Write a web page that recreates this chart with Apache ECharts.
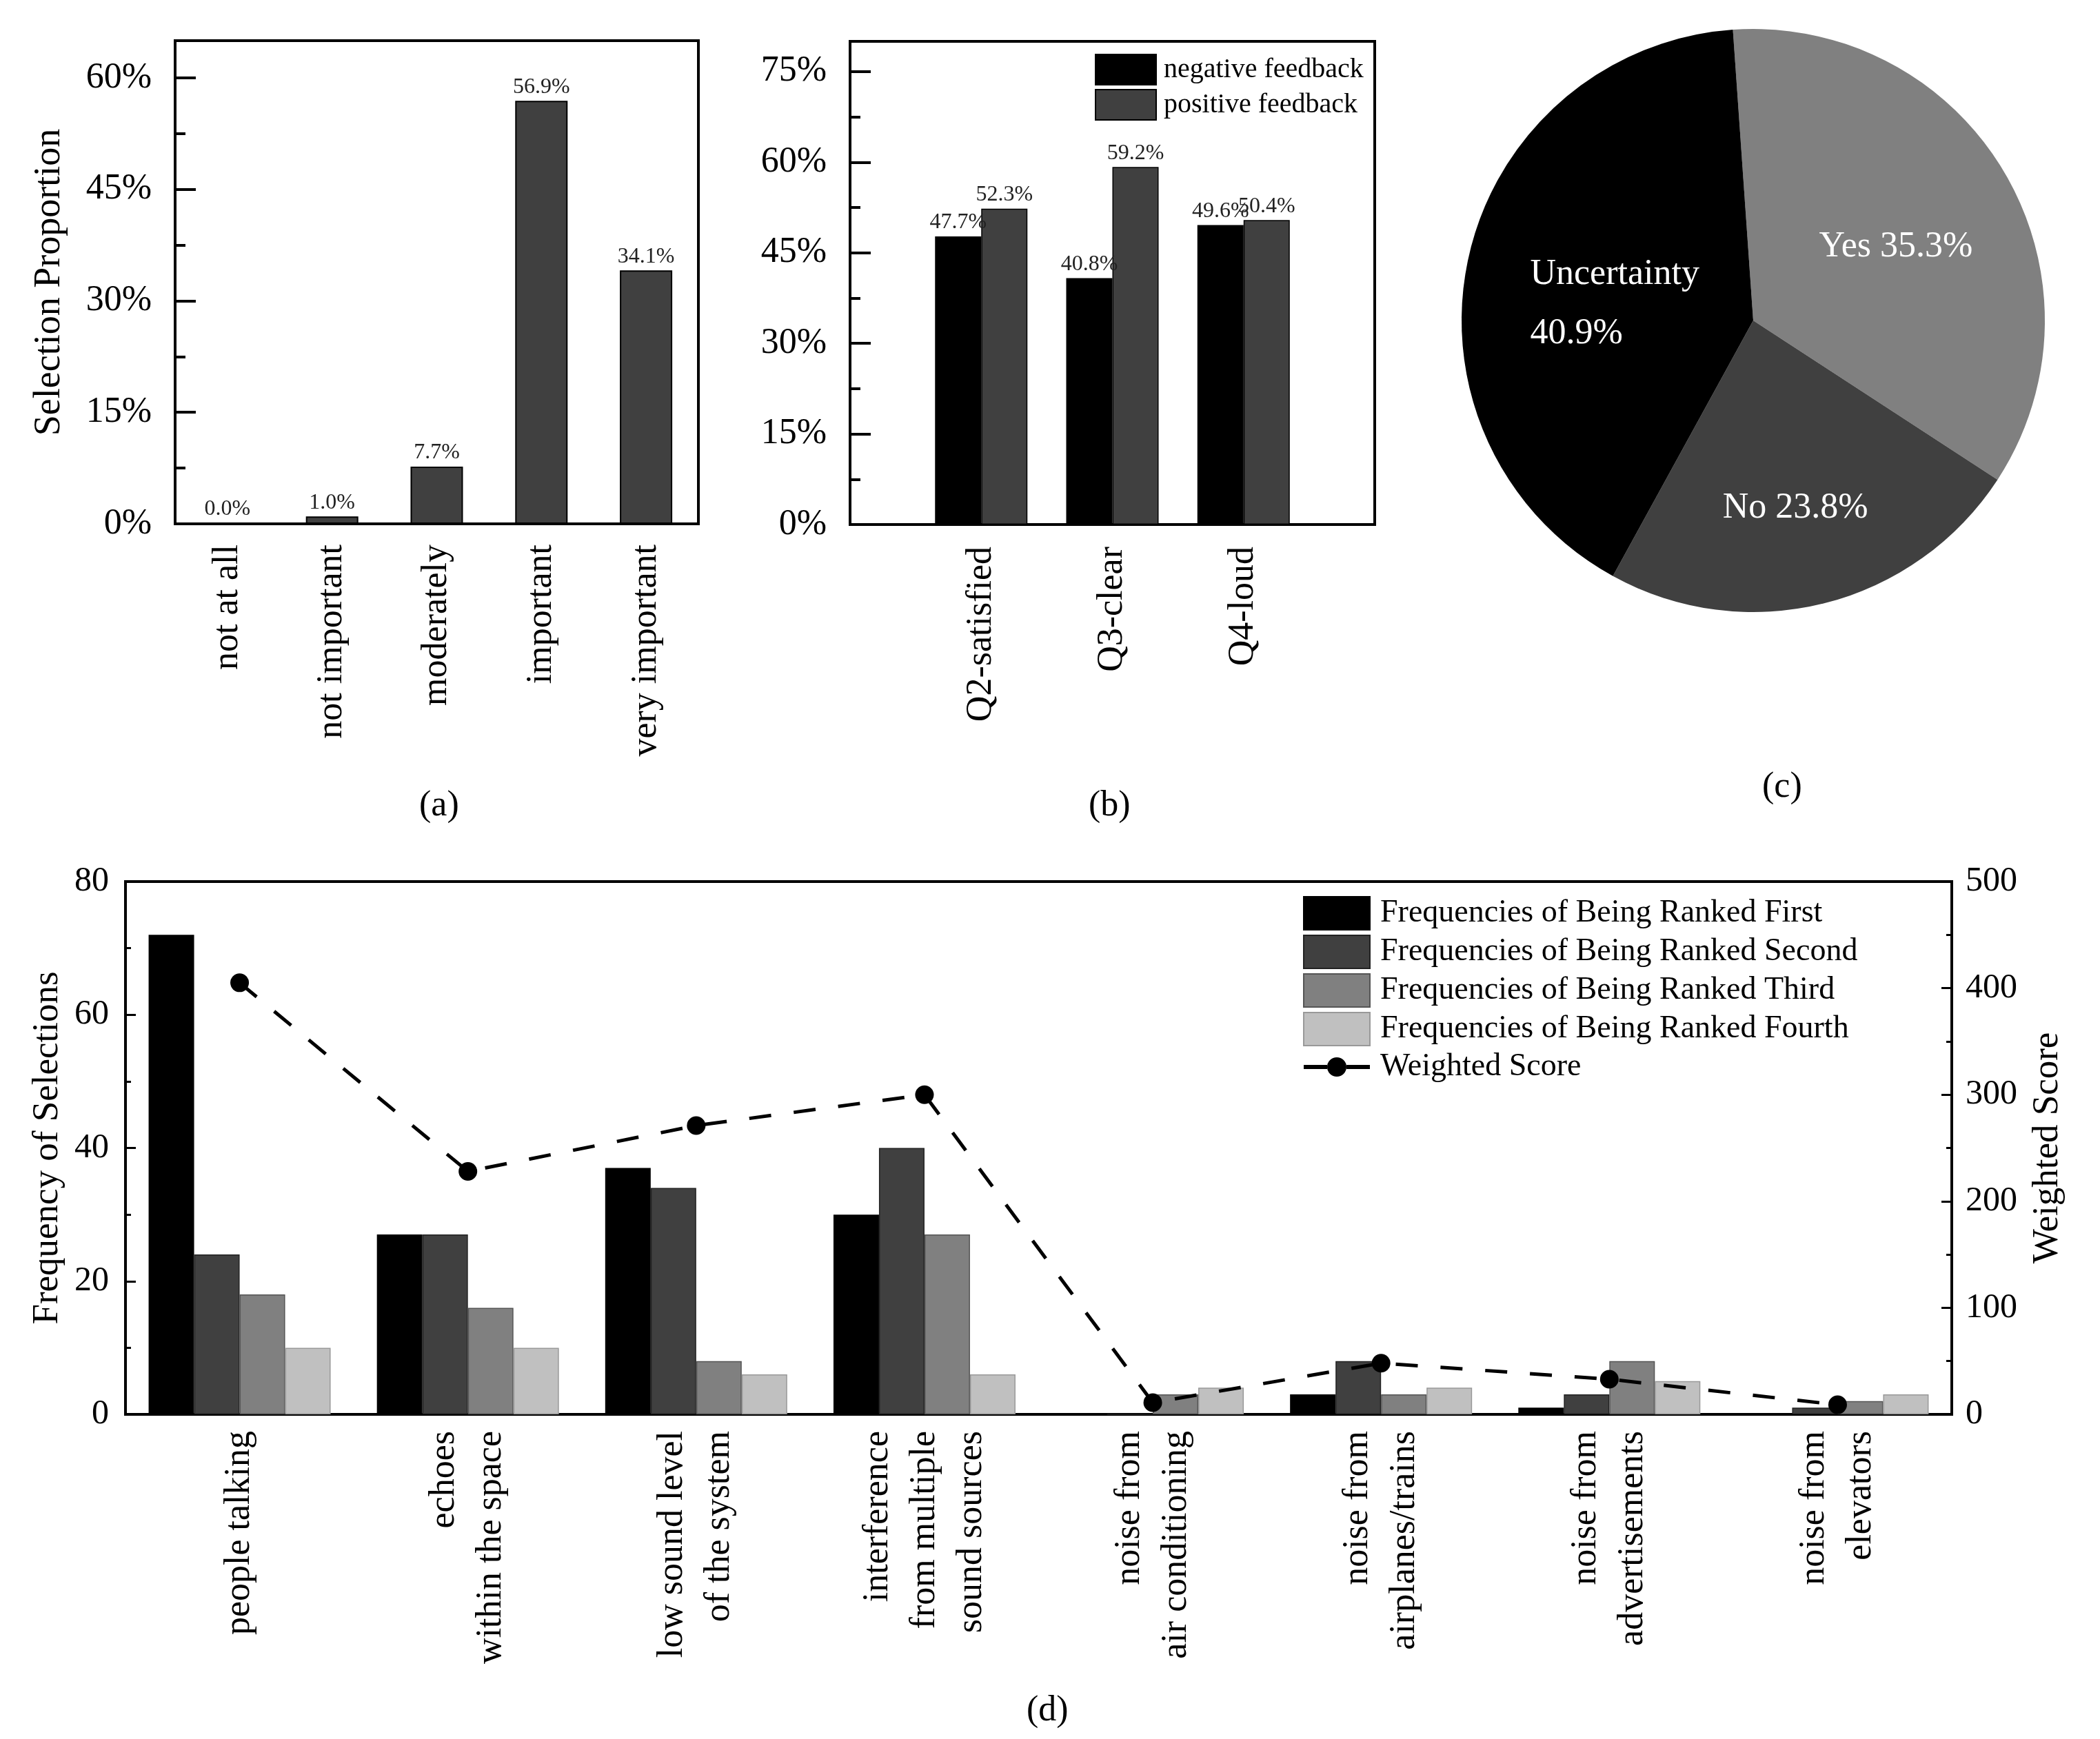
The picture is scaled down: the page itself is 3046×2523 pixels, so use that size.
<!DOCTYPE html>
<html>
<head>
<meta charset="utf-8">
<script src="https://cdn.jsdelivr.net/npm/echarts@6/dist/echarts.min.js"></script>
<style>html,body{margin:0;padding:0;background:#fff}#c{width:3046px;height:2523px}</style>
</head>
<body>
<div id="c"></div>
<script>
// ---- data ----
var aCategories = ['not at all', 'not important', 'moderately', 'important', 'very important'];
var aValues = [0.0, 1.0, 7.7, 56.9, 34.1];
var aTicks = [0, 15, 30, 45, 60];
var aMinorTicks = [7.5, 22.5, 37.5, 52.5];

var bCategories = ['Q2-satisfied', 'Q3-clear', 'Q4-loud'];
var bNegative = [47.7, 40.8, 49.6];
var bPositive = [52.3, 59.2, 50.4];
var bTicks = [0, 15, 30, 45, 60, 75];
var bMinorTicks = [7.5, 22.5, 37.5, 52.5, 67.5];

var cNames = ['Yes', 'No', 'Uncertainty'];
var cValues = [35.3, 23.8, 40.9];

var dCategories = ['people talking', 'echoes\nwithin the space', 'low sound level\nof the system',
  'interference\nfrom multiple\nsound sources', 'noise from\nair conditioning', 'noise from\nairplanes/trains',
  'noise from\nadvertisements', 'noise from\nelevators'];
var dFirst = [72, 27, 37, 30, 0, 3, 1, 0];
var dSecond = [24, 27, 34, 40, 0, 8, 3, 1];
var dThird = [18, 16, 8, 27, 3, 3, 8, 2];
var dFourth = [10, 10, 6, 6, 4, 4, 5, 3];
var dWeighted = [405, 228, 271, 300, 11, 48, 33, 9];
var dSeriesNames = ['Frequencies of Being Ranked First', 'Frequencies of Being Ranked Second',
  'Frequencies of Being Ranked Third', 'Frequencies of Being Ranked Fourth', 'Weighted Score'];

// ---- styling ----
var FONT = "'Liberation Serif','Times New Roman',serif";
function txt(size, extra) { return Object.assign({ fontFamily: FONT, fontSize: size, color: '#000' }, extra || {}); }
var frameLine = { show: true, onZero: false, lineStyle: { color: '#000', width: 4 } };
var C_BLACK = '#000000', C_DARK = '#404040', C_MID = '#808080', C_LIGHT = '#c0c0c0';
// legend glyph for the weighted-score line: dash, dot, dash
var LINE_DOT_ICON = 'path://M0,11h34v6h-34z M62,11h34v6h-34z M62,14a14,14 0 1,1 -28,0a14,14 0 1,1 28,0z';

function mainPctAxis(gridIndex, max, ticks, name) {
  var ax = {
    gridIndex: gridIndex, type: 'value', min: 0, max: max, position: 'left',
    axisLine: frameLine,
    axisTick: { show: true, inside: true, length: 30, lineStyle: { color: '#000', width: 4 }, customValues: ticks },
    axisLabel: Object.assign({ show: true, customValues: ticks, formatter: function (v) { return v + '%'; }, margin: 34 }, txt(52)),
    splitLine: { show: false }
  };
  if (name) {
    Object.assign(ax, { name: name, nameLocation: 'middle', nameGap: 155, nameTextStyle: txt(54) });
  }
  return ax;
}
function minorPctAxis(gridIndex, max, ticks) {
  return {
    gridIndex: gridIndex, type: 'value', min: 0, max: max, position: 'left',
    axisLine: { show: false },
    axisTick: { show: true, inside: true, length: 15, lineStyle: { color: '#000', width: 4 }, customValues: ticks },
    axisLabel: { show: false }, splitLine: { show: false }
  };
}

var pieOffsets = [
  { dx: 22, dy: 2 },
  { dx: 9, dy: 64 },
  { dx: -114, dy: 22, align: 'left' }
];

var barLabel = Object.assign({ show: true, position: 'top', distance: 4,
  formatter: function (p) { return Number(p.value).toFixed(1) + '%'; } }, txt(32, { color: '#222' }));

var option = {
  backgroundColor: '#fff',
  animation: false,
  title: [
    { text: '(a)', left: 603, top: 1138, textStyle: txt(52, { fontWeight: 'normal' }) },
    { text: '(b)', left: 1574, top: 1138, textStyle: txt(52, { fontWeight: 'normal' }) },
    { text: '(c)', left: 2551, top: 1111, textStyle: txt(52, { fontWeight: 'normal' }) },
    { text: '(d)', left: 1484, top: 2451, textStyle: txt(52, { fontWeight: 'normal' }) }
  ],
  grid: [
    { left: 254, top: 59, width: 759, height: 701, show: true, borderColor: '#000', borderWidth: 4 },
    { left: 1233, top: 60, width: 761, height: 701, show: true, borderColor: '#000', borderWidth: 4 },
    { left: 182, top: 1279, width: 2649, height: 773, show: true, borderColor: '#000', borderWidth: 4 }
  ],
  legend: [
    {
      data: ['negative feedback', 'positive feedback'], orient: 'vertical', left: 1588, top: 78,
      itemWidth: 88, itemHeight: 44, itemGap: 5, padding: 0, selectedMode: false, icon: 'rect',
      textStyle: txt(40, { padding: [0, 0, 0, 6], lineHeight: 44 })
    },
    {
      data: [
        { name: dSeriesNames[0], icon: 'rect' }, { name: dSeriesNames[1], icon: 'rect' },
        { name: dSeriesNames[2], icon: 'rect' }, { name: dSeriesNames[3], icon: 'rect' },
        { name: dSeriesNames[4], icon: LINE_DOT_ICON }
      ],
      orient: 'vertical', left: 1890, top: 1300, itemWidth: 96, itemHeight: 48, itemGap: 6, padding: 0,
      selectedMode: false, textStyle: txt(46, { padding: [0, 0, 0, 10], lineHeight: 48 })
    }
  ],
  xAxis: [
    {
      gridIndex: 0, type: 'category', data: aCategories, axisLine: frameLine, axisTick: { show: false },
      axisLabel: Object.assign({ interval: 0, rotate: 90, margin: 30 }, txt(52))
    },
    {
      gridIndex: 1, type: 'category', data: [''].concat(bCategories, ['']), boundaryGap: false, axisLine: frameLine,
      axisTick: { show: false }, axisLabel: Object.assign({ interval: 0, rotate: 90, margin: 32 }, txt(52))
    },
    {
      gridIndex: 2, type: 'category', data: dCategories, axisLine: frameLine, axisTick: { show: false },
      axisLabel: Object.assign({ interval: 0, rotate: 90, margin: 24, lineHeight: 68 }, txt(52))
    }
  ],
  yAxis: [
    mainPctAxis(0, 65, aTicks, 'Selection Proportion'),
    minorPctAxis(0, 65, aMinorTicks),
    mainPctAxis(1, 80, bTicks, null),
    minorPctAxis(1, 80, bMinorTicks),
    {
      gridIndex: 2, type: 'value', min: 0, max: 80, interval: 20, position: 'left',
      axisLine: frameLine,
      axisTick: { show: true, inside: true, length: 15, lineStyle: { color: '#000', width: 3 } },
      minorTick: { show: true, splitNumber: 2, length: 8, lineStyle: { color: '#000', width: 3 } },
      axisLabel: Object.assign({ margin: 24 }, txt(50)), splitLine: { show: false },
      name: 'Frequency of Selections', nameLocation: 'middle', nameGap: 86, nameTextStyle: txt(53)
    },
    {
      gridIndex: 2, type: 'value', min: 0, max: 500, interval: 100, position: 'right',
      axisLine: frameLine,
      axisTick: { show: true, inside: true, length: 15, lineStyle: { color: '#000', width: 3 } },
      minorTick: { show: true, splitNumber: 2, length: 8, lineStyle: { color: '#000', width: 3 } },
      axisLabel: Object.assign({ margin: 20 }, txt(50)), splitLine: { show: false },
      name: 'Weighted Score', nameLocation: 'middle', nameGap: 113, nameTextStyle: txt(53)
    }
  ],
  series: [
    {
      type: 'bar', xAxisIndex: 0, yAxisIndex: 0, data: aValues, barWidth: 76,
      itemStyle: { color: C_DARK, borderColor: '#000', borderWidth: 2 }, label: barLabel, silent: true
    },
    {
      type: 'bar', name: 'negative feedback', xAxisIndex: 1, yAxisIndex: 2, data: ['-'].concat(bNegative, ['-']),
      barWidth: 67, barGap: '0%', itemStyle: { color: C_BLACK, borderColor: '#000', borderWidth: 1.5 },
      label: barLabel, silent: true
    },
    {
      type: 'bar', name: 'positive feedback', xAxisIndex: 1, yAxisIndex: 2, data: ['-'].concat(bPositive, ['-']),
      barWidth: 67, barGap: '0%', itemStyle: { color: C_DARK, borderColor: '#000', borderWidth: 1.5 },
      label: barLabel, silent: true
    },
    {
      type: 'pie', center: [2543, 465], radius: 423, startAngle: 94, clockwise: true, silent: true,
      data: cNames.map(function (n, i) { return { name: n, value: cValues[i], itemStyle: { color: [C_MID, C_DARK, C_BLACK][i] } }; }),
      label: Object.assign({
        show: true, position: 'inside', lineHeight: 86,
        formatter: function (p) { return p.name === 'Uncertainty' ? p.name + '\n' + p.value + '%' : p.name + ' ' + p.value + '%'; }
      }, txt(52, { color: '#fff' })),
      labelLine: { show: false },
      labelLayout: function (p) { return pieOffsets[p.dataIndex]; },
      emphasis: { disabled: true }
    },
    {
      type: 'bar', name: dSeriesNames[0], xAxisIndex: 2, yAxisIndex: 4, data: dFirst, barWidth: 66, barGap: '0%',
      itemStyle: { color: C_BLACK, borderColor: '#000', borderWidth: 1.5 }, silent: true
    },
    {
      type: 'bar', name: dSeriesNames[1], xAxisIndex: 2, yAxisIndex: 4, data: dSecond, barWidth: 66, barGap: '0%',
      itemStyle: { color: C_DARK, borderColor: '#222', borderWidth: 1.5 }, silent: true
    },
    {
      type: 'bar', name: dSeriesNames[2], xAxisIndex: 2, yAxisIndex: 4, data: dThird, barWidth: 66, barGap: '0%',
      itemStyle: { color: C_MID, borderColor: '#555', borderWidth: 1.5 }, silent: true
    },
    {
      type: 'bar', name: dSeriesNames[3], xAxisIndex: 2, yAxisIndex: 4, data: dFourth, barWidth: 66, barGap: '0%',
      itemStyle: { color: C_LIGHT, borderColor: '#999', borderWidth: 1.5 }, silent: true
    },
    {
      type: 'line', name: dSeriesNames[4], xAxisIndex: 2, yAxisIndex: 5, data: dWeighted, z: 5,
      symbol: 'circle', symbolSize: 27, showSymbol: true,
      lineStyle: { color: '#000', width: 5, type: [32, 33] },
      itemStyle: { color: '#000', borderWidth: 0 }, silent: true
    }
  ]
};
var chart = echarts.init(document.getElementById('c'), null, { renderer: 'canvas' });
window.chart = chart;
try {
  chart.setOption(option);
} catch (e) {
  console.error('SETOPTION ERROR: ' + e.message + ' | ' + (e.stack || '').split('\n').slice(0, 4).join(' / '));
}
</script>
</body>
</html>
